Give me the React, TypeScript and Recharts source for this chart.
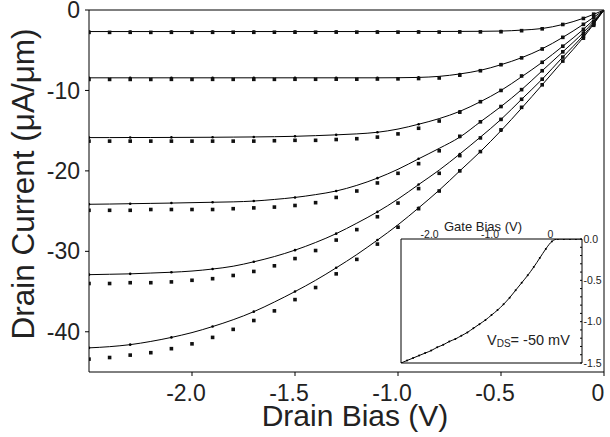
import React from "react";
import { ComposedChart, LineChart, Line, Scatter, XAxis, YAxis } from "recharts";

// drain bias points (measured every 0.1 V plus -0.05, simulation every 0.1 V)
const measX = [-2.5, -2.4, -2.3, -2.2, -2.1, -2.0, -1.9, -1.8, -1.7, -1.6, -1.5, -1.4, -1.3, -1.2, -1.1, -1.0, -0.9, -0.8, -0.7, -0.6, -0.5, -0.4, -0.3, -0.2, -0.1, -0.05, 0];
const simX = [-2.5, -2.4, -2.3, -2.2, -2.1, -2.0, -1.9, -1.8, -1.7, -1.6, -1.5, -1.4, -1.3, -1.2, -1.1, -1.0, -0.9, -0.8, -0.7, -0.6, -0.5, -0.4, -0.3, -0.2, -0.1, 0];

// measured drain current (uA/um), one array per gate step
const meas1 = [-2.78, -2.78, -2.77, -2.78, -2.77, -2.77, -2.77, -2.76, -2.77, -2.76, -2.76, -2.76, -2.75, -2.75, -2.75, -2.75, -2.74, -2.74, -2.73, -2.72, -2.7, -2.57, -2.34, -1.8, -1.05, -0.52, 0];
const meas2 = [-8.63, -8.63, -8.63, -8.63, -8.62, -8.63, -8.62, -8.62, -8.62, -8.62, -8.61, -8.61, -8.6, -8.6, -8.58, -8.56, -8.52, -8.45, -8.1, -7.55, -6.8, -5.95, -4.85, -3.4, -1.78, -0.92, 0];
const meas3 = [-16.3, -16.3, -16.3, -16.3, -16.3, -16.3, -16.3, -16.3, -16.3, -16.25, -16.2, -16.2, -16.1, -16.0, -15.8, -15.4, -14.7, -13.8, -12.7, -11.4, -10.0, -8.2, -6.5, -4.5, -2.4, -1.4, 0];
const meas4 = [-24.9, -24.9, -24.9, -24.8, -24.8, -24.8, -24.8, -24.7, -24.6, -24.5, -24.3, -23.95, -23.3, -22.5, -21.5, -20.3, -19.1, -17.5, -15.7, -13.9, -12.0, -9.9, -7.55, -5.2, -2.9, -1.6, 0];
const meas5 = [-34.0, -34.0, -33.9, -33.9, -33.8, -33.6, -33.4, -33.0, -32.5, -31.8, -30.9, -29.9, -28.6, -27.3, -25.7, -24.0, -22.2, -20.3, -18.1, -15.9, -13.6, -11.1, -8.6, -5.85, -3.25, -1.75, 0];
const meas6 = [-43.4, -43.2, -42.9, -42.6, -42.1, -41.5, -40.7, -39.7, -38.6, -37.4, -36.0, -34.5, -32.8, -31.0, -29.1, -27.0, -24.7, -22.5, -20.0, -17.6, -14.9, -12.1, -9.3, -6.35, -3.5, -1.9, 0];

// simulated curves
const sim1 = [-2.68, -2.68, -2.68, -2.68, -2.68, -2.68, -2.68, -2.68, -2.68, -2.68, -2.68, -2.68, -2.68, -2.68, -2.68, -2.67, -2.67, -2.67, -2.66, -2.65, -2.62, -2.5, -2.3, -1.8, -1.03, 0];
const sim2 = [-8.43, -8.43, -8.43, -8.43, -8.43, -8.43, -8.43, -8.43, -8.43, -8.43, -8.43, -8.43, -8.43, -8.43, -8.43, -8.42, -8.38, -8.25, -7.95, -7.5, -6.8, -5.93, -4.82, -3.4, -1.78, 0];
const sim3 = [-15.86, -15.86, -15.85, -15.85, -15.84, -15.83, -15.82, -15.8, -15.78, -15.75, -15.7, -15.62, -15.52, -15.4, -15.2, -14.8, -14.2, -13.5, -12.6, -11.4, -10.0, -8.3, -6.5, -4.5, -2.4, 0];
const sim4 = [-24.15, -24.12, -24.08, -24.04, -24.0, -23.95, -23.9, -23.85, -23.75, -23.55, -23.3, -22.95, -22.5, -21.8, -20.9, -19.8, -18.5, -17.2, -15.8, -13.9, -12.0, -9.9, -7.55, -5.2, -2.8, 0];
const sim5 = [-32.9, -32.85, -32.8, -32.7, -32.6, -32.45, -32.2, -31.85, -31.3, -30.65, -29.85, -28.9, -27.8, -26.5, -25.1, -23.5, -21.7, -19.9, -17.9, -15.8, -13.6, -11.1, -8.6, -5.85, -3.15, 0];
const sim6 = [-42.0, -41.85, -41.6, -41.2, -40.7, -40.1, -39.35, -38.5, -37.5, -36.3, -35.0, -33.6, -32.05, -30.4, -28.6, -26.7, -24.6, -22.4, -20.0, -17.6, -15.0, -12.2, -9.3, -6.35, -3.4, 0];

const xTicks = [-2.0, -1.5, -1.0, -0.5, 0];
const yTicks = [0, -10, -20, -30, -40];

// inset: transfer curve at Vds = -50 mV
const gateX = [-2.5, -2.4, -2.3, -2.2, -2.1, -2.0, -1.9, -1.8, -1.7, -1.6, -1.5, -1.4, -1.3, -1.2, -1.1, -1.0, -0.9, -0.8, -0.7, -0.6, -0.5, -0.4, -0.3, -0.2, -0.1, 0, 0.1, 0.2, 0.3, 0.4, 0.5];
const gateI = [-1.5, -1.47, -1.44, -1.41, -1.38, -1.35, -1.31, -1.28, -1.24, -1.21, -1.17, -1.13, -1.08, -1.03, -0.98, -0.92, -0.86, -0.79, -0.71, -0.62, -0.53, -0.44, -0.34, -0.23, -0.12, -0.03, 0, 0, 0, 0, 0];
const gateTicks = [-2, -1, 0];
const gateMinor = [-2.5, -2.4, -2.3, -2.2, -2.1, -2.0, -1.9, -1.8, -1.7, -1.6, -1.5, -1.4, -1.3, -1.2, -1.1, -1.0, -0.9, -0.8, -0.7, -0.6, -0.5, -0.4, -0.3, -0.2, -0.1, 0, 0.1, 0.2, 0.3, 0.4, 0.5];
const insetYTicks = [0, -0.5, -1.0, -1.5];
const insetYMinor = [0, -0.1, -0.2, -0.3, -0.4, -0.5, -0.6, -0.7, -0.8, -0.9, -1.0, -1.1, -1.2, -1.3, -1.4, -1.5];

const FONT = "'Liberation Sans', Arial, Helvetica, sans-serif";
const TXT = "#222";

const measSets = [meas1, meas2, meas3, meas4, meas5, meas6].map((ys) =>
  measX.map((x, i) => ({ x, y: ys[i] }))
);
const simSets = [sim1, sim2, sim3, sim4, sim5, sim6].map((ys) =>
  simX.map((x, i) => ({ x, y: ys[i] }))
);
const gateData = gateX.map((x, i) => ({ x, y: gateI[i] }));

const simDot = (p: any) =>
  p.index % 2 === 0 && p.index < simX.length - 1 ? (
    <circle key={`d${p.index}`} cx={p.cx} cy={p.cy} r={1.3} fill="#000" />
  ) : (
    <g key={`d${p.index}`} />
  );

const Square = (p: any) => (
  <rect x={p.cx - 1.8} y={p.cy - 1.8} width={3.6} height={3.6} fill="#111" />
);

const XTitle = (p: any) => {
  const vb = p.viewBox || { x: 89, y: 372, width: 515, height: 65 };
  return (
    <text x={vb.x + vb.width / 2 + 8.5} y={vb.y + 54} textAnchor="middle" fontSize={30} fontFamily={FONT} fill={TXT}>
      Drain Bias (V)
    </text>
  );
};

const YTitle = (p: any) => {
  const vb = p.viewBox || { x: 0, y: 10, width: 89, height: 362 };
  const cx = vb.x + 23;
  const cy = vb.y + vb.height / 2 - 7;
  return (
    <text x={cx} y={cy} dy="0.355em" transform={`rotate(-90, ${cx}, ${cy})`} textAnchor="middle" fontSize={31.5} fontFamily={FONT} fill={TXT}>
      Drain Current (μA/μm)
    </text>
  );
};

const GateTitle = (p: any) => {
  const vb = p.viewBox || { x: 21, y: 16, width: 181, height: 11 };
  return (
    <text x={vb.x + vb.width / 2 - 8.5} y={vb.y + 3} textAnchor="middle" fontSize={13} fontFamily={FONT} fill={TXT}>
      Gate Bias (V)
    </text>
  );
};

const fmtX = (v: number) => (v === 0 ? "0" : v.toFixed(1));

const App = () => {
  return (
    <div style={{ position: "absolute", left: 0, top: 0, width: 610, height: 437, background: "#fff", fontFamily: FONT }}>
      <ComposedChart width={610} height={437} margin={{ top: 10, right: 6, bottom: 0, left: 0 }}>
        <XAxis
          xAxisId="b"
          dataKey="x"
          type="number"
          domain={[-2.5, 0]}
          allowDataOverflow
          ticks={xTicks}
          interval={0}
          height={65}
          tickSize={4}
          tickMargin={9}
          tickFormatter={fmtX}
          tick={{ fontSize: 23, fill: TXT, fontFamily: FONT, dx: -6 }}
          stroke="#000"
          label={{ content: (p: any) => <XTitle {...p} /> }}
        />
        <XAxis
          xAxisId="t"
          orientation="top"
          type="number"
          domain={[-2.5, 0]}
          allowDataOverflow
          ticks={xTicks}
          interval={0}
          mirror
          tickSize={4}
          tickFormatter={() => ""}
          stroke="#000"
        />
        <YAxis
          yAxisId="l"
          dataKey="y"
          type="number"
          domain={[-45, 0]}
          allowDataOverflow
          ticks={yTicks}
          interval={0}
          width={89}
          tickSize={4}
          tickMargin={5}
          tick={{ fontSize: 23, fill: TXT, fontFamily: FONT }}
          stroke="#000"
          label={{ content: (p: any) => <YTitle {...p} /> }}
        />
        <YAxis
          yAxisId="r"
          orientation="right"
          type="number"
          domain={[-45, 0]}
          allowDataOverflow
          mirror
          tickLine={false}
          tickFormatter={() => ""}
          stroke="#000"
        />
        {simSets.map((d, i) => (
          <Line
            key={`sim${i}`}
            xAxisId="b"
            yAxisId="l"
            data={d}
            dataKey="y"
            type="monotone"
            stroke="#000"
            strokeWidth={1}
            dot={simDot}
            activeDot={false}
            isAnimationActive={false}
          />
        ))}
        {measSets.map((d, i) => (
          <Scatter
            key={`meas${i}`}
            xAxisId="b"
            yAxisId="l"
            data={d}
            dataKey="y"
            shape={Square}
            isAnimationActive={false}
          />
        ))}
      </ComposedChart>

      <div style={{ position: "absolute", left: 380, top: 212 }}>
        <LineChart width={230} height={157} margin={{ top: 16, right: 0, bottom: 6, left: 21 }}>
          <XAxis
            xAxisId="t"
            orientation="top"
            dataKey="x"
            type="number"
            domain={[-2.5, 0.5]}
            allowDataOverflow
            ticks={gateTicks}
            interval={0}
            height={11}
            tickLine={false}
            tickSize={0}
            tickMargin={1.5}
            tickFormatter={fmtX}
            tick={{ fontSize: 10.5, fill: TXT, fontFamily: FONT, dx: -1.5 }}
            stroke="#000"
            label={{ content: (p: any) => <GateTitle {...p} /> }}
          />
          <XAxis
            xAxisId="tm"
            orientation="top"
            type="number"
            domain={[-2.5, 0.5]}
            allowDataOverflow
            ticks={gateMinor}
            interval={0}
            mirror
            tickSize={2}
            axisLine={false}
            tickFormatter={() => ""}
            stroke="#000"
          />
          <XAxis
            xAxisId="bm"
            orientation="bottom"
            type="number"
            domain={[-2.5, 0.5]}
            allowDataOverflow
            ticks={[-2, -1.5, -1, -0.5, 0]}
            interval={0}
            mirror
            tickSize={3}
            tickFormatter={() => ""}
            stroke="#000"
          />
          <YAxis
            yAxisId="r"
            orientation="right"
            dataKey="y"
            type="number"
            domain={[-1.5, 0]}
            allowDataOverflow
            ticks={insetYTicks}
            interval={0}
            width={28}
            tickLine={false}
            tickSize={0}
            tickMargin={1.5}
            tickFormatter={(v: number) => v.toFixed(1)}
            tick={{ fontSize: 10.5, fill: TXT, fontFamily: FONT }}
            stroke="#000"
          />
          <YAxis
            yAxisId="rm"
            orientation="right"
            type="number"
            domain={[-1.5, 0]}
            allowDataOverflow
            ticks={insetYMinor}
            interval={0}
            mirror
            tickSize={2}
            axisLine={false}
            tickFormatter={() => ""}
            stroke="#000"
          />
          <YAxis
            yAxisId="lm"
            orientation="left"
            type="number"
            domain={[-1.5, 0]}
            allowDataOverflow
            mirror
            tickLine={false}
            tickFormatter={() => ""}
            stroke="#000"
          />
          <Line
            xAxisId="t"
            yAxisId="r"
            data={gateData}
            dataKey="y"
            type="monotone"
            stroke="#000"
            strokeWidth={1}
            dot={{ r: 1, fill: "#000", stroke: "none" }}
            activeDot={false}
            isAnimationActive={false}
          />
        </LineChart>
      </div>

      <div style={{ position: "absolute", left: 487, top: 333, fontSize: 14.5, lineHeight: "14px", color: TXT, whiteSpace: "nowrap" }}>
        V<span style={{ fontSize: 10, position: "relative", top: 2 }}>DS</span>= -50 mV
      </div>
    </div>
  );
};

export default App;
